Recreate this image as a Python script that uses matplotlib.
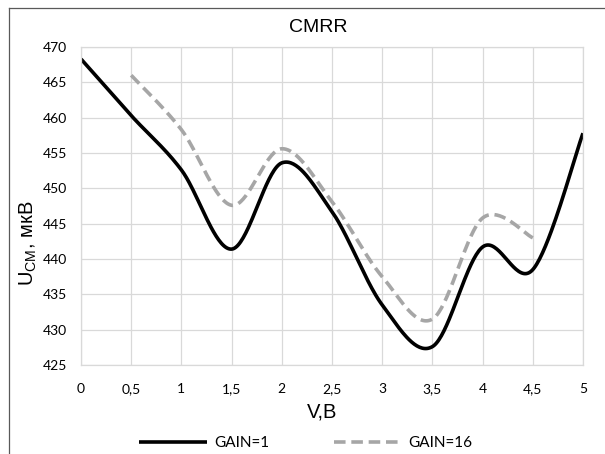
import numpy as np
import matplotlib
matplotlib.use('Agg')
import matplotlib.pyplot as plt
from matplotlib.lines import Line2D

# данные
v_gain1 = [0, 0.5, 1, 1.5, 2, 2.5, 3, 3.5, 4, 4.5, 5]
u_gain1 = [468.3, 460.3, 452.6, 441.4, 453.6, 446.7, 433.5, 427.6, 441.7, 438.5, 457.8]
v_gain16 = [0.5, 1, 1.5, 2, 2.5, 3, 3.5, 4, 4.5]
u_gain16 = [466.0, 458.3, 447.6, 455.6, 448.1, 437.5, 431.5, 445.8, 443.0]

x_ticks = [0, 0.5, 1, 1.5, 2, 2.5, 3, 3.5, 4, 4.5, 5]
x_labels = ['0', '0,5', '1', '1,5', '2', '2,5', '3', '3,5', '4', '4,5', '5']
y_ticks = [425, 430, 435, 440, 445, 450, 455, 460, 465, 470]

W, H = 605, 454


def smooth(xs, ys, n=40):
    # сглаживание как в Excel (безье через соседние точки)
    p = np.column_stack([xs, ys]).astype(float)
    out = [p[0]]
    for i in range(len(p) - 1):
        p0 = p[i - 1] if i > 0 else p[i]
        p3 = p[i + 2] if i + 2 < len(p) else p[i + 1]
        c1 = p[i] + (p[i + 1] - p0) / 6
        c2 = p[i + 1] - (p3 - p[i]) / 6
        t = np.linspace(0, 1, n)[1:, None]
        seg = ((1 - t) ** 3 * p[i] + 3 * (1 - t) ** 2 * t * c1
               + 3 * (1 - t) * t ** 2 * c2 + t ** 3 * p[i + 1])
        out.extend(seg)
    out = np.array(out)
    return out[:, 0], out[:, 1]


fig = plt.figure(figsize=(W / 100, H / 100), dpi=100)
ax = fig.add_axes([81 / W, 1 - 365 / H, (583 - 81) / W, (365 - 47) / H])

sx, sy = smooth(v_gain1, u_gain1)
ax.plot(sx, sy, color='black', lw=2.6, label='GAIN=1', solid_capstyle='butt')
sx, sy = smooth(v_gain16, u_gain16)
ax.plot(sx, sy, color='#a6a6a6', lw=2.6, ls=(0, (3.2, 1.6)), label='GAIN=16',
        dash_capstyle='butt')

ax.set_xlim(0, 5)
ax.set_ylim(425, 470)
ax.set_xticks(x_ticks)
ax.set_xticklabels(x_labels)
ax.set_yticks(y_ticks)
ax.grid(True, color='#d9d9d9', lw=0.9)
ax.set_axisbelow(True)
for s in ax.spines.values():
    s.set_color('#d9d9d9')
    s.set_linewidth(0.9)
ax.tick_params(length=0, labelsize=10, colors='black')
ax.tick_params(axis='y', pad=10)
ax.tick_params(axis='x', pad=13)
for lab in ax.get_xticklabels() + ax.get_yticklabels():
    lab.set_family('Lato')

fig.text(318 / W, 1 - 32 / H, 'CMRR', ha='center', va='baseline',
         family='Liberation Sans', fontsize=14)
fig.text(307 / W, 1 - 417 / H, 'V,B', ha='left', va='baseline',
         family='Liberation Sans', fontsize=14.5)
fig.text(28 / W, 1 - 243 / H, r'$\mathregular{U_{CM}}$, мкВ', rotation=90,
         ha='center', va='center', family='Liberation Sans', fontsize=14.5)

fig.legend(loc='center', bbox_to_anchor=(306 / W, 1 - 443 / H), ncol=2,
           frameon=False, handlelength=4.4, handletextpad=0.5, columnspacing=4.2,
           prop={'family': 'Lato', 'size': 11})

# рамка области диаграммы
fig.add_artist(Line2D([8.5 / W, 8.5 / W], [1 - 7.5 / H, 0], color='#595959', lw=0.9))
fig.add_artist(Line2D([8.5 / W, 1], [1 - 7.5 / H, 1 - 7.5 / H], color='#595959', lw=0.9))

fig.savefig('out.png', dpi=100)
